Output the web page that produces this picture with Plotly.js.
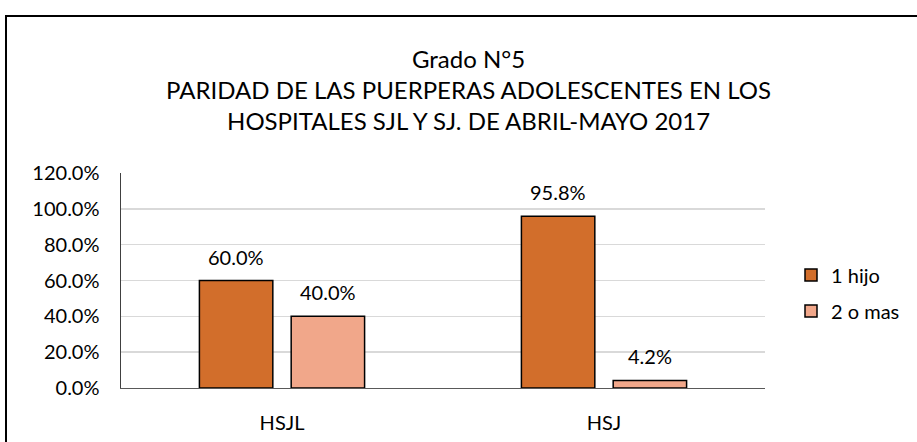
<!DOCTYPE html>
<html>
<head>
<meta charset="utf-8">
<script src="https://cdn.plot.ly/plotly-3.0.1.min.js"></script>
<style>html,body{margin:0;padding:0;background:#fff;}#chart{width:917px;height:442px;}</style>
</head>
<body>
<div id="chart"></div>
<script>
const categories = ["HSJL", "HSJ"];
const seriesNames = ["1 hijo", "2 o mas"];
const unHijo = [0.600, 0.958];
const dosOMas = [0.400, 0.042];
const yTickVals = [0, 0.2, 0.4, 0.6, 0.8, 1.0, 1.2];

const FONT = "Lato, 'Open Sans', sans-serif";
const colors = ["#D26E2B", "#F1A78A"];
const seriesValues = [unHijo, dosOMas];

const traces = seriesValues.map((vals, i) => ({
  type: "bar",
  name: seriesNames[i],
  x: categories,
  y: vals,
  legendgroup: "g" + i,
  marker: {color: colors[i], line: {color: "#000000", width: 1.5}},
  hoverinfo: "skip"
}));

const plotW = 917 - 121 - 152;
const catW = plotW / categories.length;
const bargap = 0.43;
const slot = catW * (1 - bargap) / seriesValues.length;
const annotations = [];
seriesValues.forEach((vals, i) => {
  vals.forEach((v, j) => {
    annotations.push({
      x: categories[j], y: v, xref: "x", yref: "y",
      xshift: (i - (seriesValues.length - 1) / 2) * slot,
      yshift: 24, yanchor: "middle",
      text: (v * 100).toFixed(1) + "%",
      showarrow: false,
      font: {family: FONT, size: 20, color: "#000"}
    });
  });
});

const layout = {
  width: 917, height: 442,
  margin: {l: 121, r: 152, t: 173, b: 54},
  paper_bgcolor: "#ffffff", plot_bgcolor: "#ffffff",
  font: {family: FONT, size: 20, color: "#000"},
  title: {
    text: "Grado N°5<br>PARIDAD DE LAS PUERPERAS ADOLESCENTES EN LOS<br>HOSPITALES SJL Y SJ. DE ABRIL-MAYO 2017",
    font: {family: FONT, size: 24, color: "#000"},
    xref: "container", x: 0.511, xanchor: "center",
    yref: "container", y: 1 - 68 / 442, yanchor: "middle"
  },
  barmode: "group",
  bargap: bargap,
  bargroupgap: 0.2,
  xaxis: {
    showgrid: false, showline: true, linecolor: "#595959", linewidth: 1,
    ticks: "", ticklabelstandoff: 17,
    tickfont: {family: FONT, size: 20, color: "#000"},
    fixedrange: true
  },
  yaxis: {
    range: [0, 1.2], tickvals: yTickVals, tickformat: ".1%",
    showgrid: true, gridcolor: "#D9D9D9", gridwidth: 1.5,
    showline: true, linecolor: "#404040", linewidth: 1.5,
    zeroline: false, ticks: "", ticklabelstandoff: 16,
    tickfont: {family: FONT, size: 20, color: "#000"},
    fixedrange: true
  },
  legend: {
    x: (791 - 121) / plotW, xanchor: "left",
    y: 0.442, yanchor: "middle",
    traceorder: "grouped", tracegroupgap: 7,
    itemwidth: 30,
    font: {family: FONT, size: 20, color: "#000"},
    bgcolor: "rgba(0,0,0,0)"
  },
  showlegend: true,
  annotations: annotations,
  shapes: [{
    type: "rect", xref: "paper", yref: "paper",
    x0: (6 - 121) / plotW, x1: 1.5,
    y0: -0.5, y1: 1 + (173 - 16) / 215,
    line: {color: "#000000", width: 2}, fillcolor: "rgba(0,0,0,0)", layer: "below"
  }]
};

Plotly.newPlot("chart", traces, layout, {displayModeBar: false, staticPlot: true});
</script>
</body>
</html>
